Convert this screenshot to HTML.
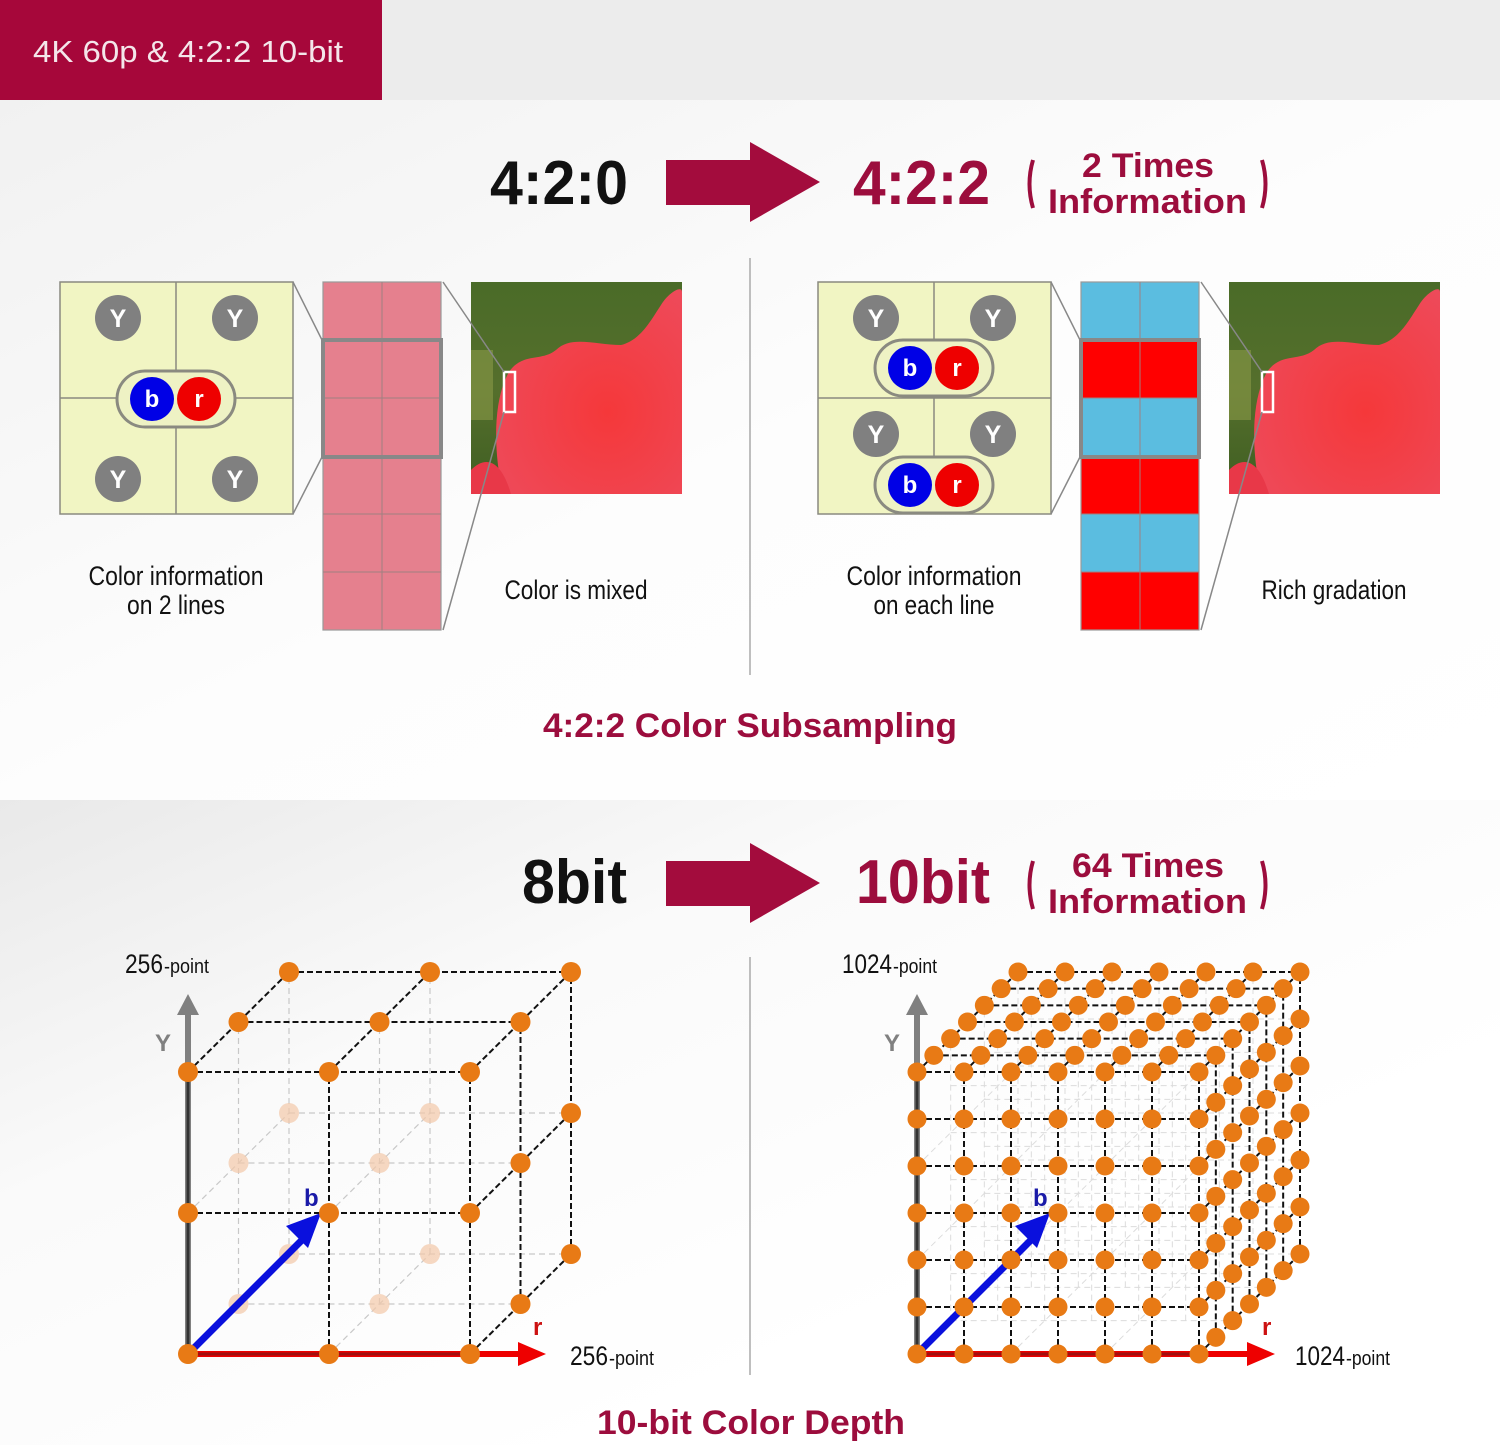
<!DOCTYPE html>
<html><head><meta charset="utf-8"><style>
html,body{margin:0;padding:0;width:1500px;height:1445px;overflow:hidden;background:#fff}
svg{display:block}
text{font-family:"Liberation Sans Narrow","Liberation Sans",sans-serif}
</style></head><body>
<svg id="s" width="1500" height="1445" viewBox="0 0 1500 1445" xmlns="http://www.w3.org/2000/svg">
<defs>
<linearGradient id="g1" x1="0" y1="0" x2="1" y2="1"><stop offset="0" stop-color="#f1f1f1"/><stop offset="0.5" stop-color="#fdfdfd"/><stop offset="1" stop-color="#ffffff"/></linearGradient>
<linearGradient id="g2" x1="0" y1="0" x2="0.7" y2="0.7"><stop offset="0" stop-color="#e9e9e9"/><stop offset="0.45" stop-color="#fafafa"/><stop offset="1" stop-color="#ffffff"/></linearGradient>
<radialGradient id="pet" cx="0.6" cy="0.6" r="0.7"><stop offset="0" stop-color="#f5383a"/><stop offset="1" stop-color="#ee4a5a"/></radialGradient>
<linearGradient id="grn" x1="0" y1="0" x2="0" y2="1"><stop offset="0" stop-color="#4a6b28"/><stop offset="0.5" stop-color="#556f2c"/><stop offset="1" stop-color="#3f5e22"/></linearGradient>
</defs>
<rect x="0" y="0" width="1500" height="100" fill="#ececec"/>
<rect x="0" y="0" width="382" height="100" fill="#a6073a"/>
<text x="33" y="62" font-size="31" fill="#f4e6ea" textLength="310" lengthAdjust="spacingAndGlyphs">4K 60p &amp; 4:2:2 10-bit</text>
<rect x="0" y="100" width="1500" height="700" fill="url(#g1)"/>
<rect x="0" y="800" width="1500" height="645" fill="url(#g2)"/>

<text x="490" y="204" font-size="62" font-weight="bold" fill="#111" textLength="138" lengthAdjust="spacingAndGlyphs">4:2:0</text>
<polygon points="666,160 750,160 750,142 820,182 750,222 750,205 666,205" fill="#a30c3d"/>
<text x="853" y="204" font-size="62" font-weight="bold" fill="#9c0d3d" textLength="137" lengthAdjust="spacingAndGlyphs">4:2:2</text>
<path d="M1033,160 Q1026,184 1033,208" stroke="#9c0d3d" stroke-width="4" fill="none"/>
<path d="M1262,160 Q1269,184 1262,208" stroke="#9c0d3d" stroke-width="4" fill="none"/>
<text x="1082" y="177" font-size="34" font-weight="bold" fill="#9c0d3d" textLength="132" lengthAdjust="spacingAndGlyphs" style="font-family:'Liberation Sans',sans-serif">2 Times</text>
<text x="1048" y="213" font-size="34" font-weight="bold" fill="#9c0d3d" textLength="199" lengthAdjust="spacingAndGlyphs" style="font-family:'Liberation Sans',sans-serif">Information</text>

<line x1="750" y1="258" x2="750" y2="675" stroke="#aaa" stroke-width="1.5"/>
<line x1="750" y1="957" x2="750" y2="1375" stroke="#aaa" stroke-width="1.5"/>

<g id="left422"></g>

<text x="543" y="737" font-size="34" font-weight="bold" fill="#9c0d3d" textLength="414" lengthAdjust="spacingAndGlyphs" style="font-family:'Liberation Sans',sans-serif">4:2:2 Color Subsampling</text>

<text x="522" y="903" font-size="62" font-weight="bold" fill="#111" textLength="105" lengthAdjust="spacingAndGlyphs">8bit</text>
<polygon points="666,861 750,861 750,843 820,883 750,923 750,906 666,906" fill="#a30c3d"/>
<text x="856" y="903" font-size="62" font-weight="bold" fill="#9c0d3d" textLength="134" lengthAdjust="spacingAndGlyphs">10bit</text>
<path d="M1033,861 Q1026,885 1033,909" stroke="#9c0d3d" stroke-width="4" fill="none"/>
<path d="M1262,861 Q1269,885 1262,909" stroke="#9c0d3d" stroke-width="4" fill="none"/>
<text x="1072" y="877" font-size="34" font-weight="bold" fill="#9c0d3d" textLength="152" lengthAdjust="spacingAndGlyphs" style="font-family:'Liberation Sans',sans-serif">64 Times</text>
<text x="1048" y="913" font-size="34" font-weight="bold" fill="#9c0d3d" textLength="199" lengthAdjust="spacingAndGlyphs" style="font-family:'Liberation Sans',sans-serif">Information</text>

<g id="cubes"></g>

<text x="125" y="973" font-size="27" fill="#111" textLength="38" lengthAdjust="spacingAndGlyphs">256</text>
<text x="164" y="973" font-size="20" fill="#111" textLength="45" lengthAdjust="spacingAndGlyphs">-point</text>
<text x="570" y="1365" font-size="27" fill="#111" textLength="38" lengthAdjust="spacingAndGlyphs">256</text>
<text x="609" y="1365" font-size="20" fill="#111" textLength="45" lengthAdjust="spacingAndGlyphs">-point</text>
<text x="842" y="973" font-size="27" fill="#111" textLength="50" lengthAdjust="spacingAndGlyphs">1024</text>
<text x="893" y="973" font-size="20" fill="#111" textLength="44" lengthAdjust="spacingAndGlyphs">-point</text>
<text x="1295" y="1365" font-size="27" fill="#111" textLength="50" lengthAdjust="spacingAndGlyphs">1024</text>
<text x="1346" y="1365" font-size="20" fill="#111" textLength="44" lengthAdjust="spacingAndGlyphs">-point</text>

<text x="597" y="1434" font-size="34" font-weight="bold" fill="#9c0d3d" textLength="308" lengthAdjust="spacingAndGlyphs" style="font-family:'Liberation Sans',sans-serif">10-bit Color Depth</text>
</svg>
<script>
var NS="http://www.w3.org/2000/svg";
function el(p,t,a,txt){var e=document.createElementNS(NS,t);for(var k in a)e.setAttribute(k,a[k]);if(txt!=null)e.textContent=txt;p.appendChild(e);return e;}
var g=document.getElementById("left422");
function ycirc(cx,cy){el(g,"circle",{cx:cx,cy:cy,r:23,fill:"#808080"});el(g,"text",{x:cx,y:cy+9,"font-size":25,"font-weight":"bold",fill:"#fff","text-anchor":"middle",style:"font-family:'Liberation Sans',sans-serif"},"Y");}
function pill(cx,cy){el(g,"rect",{x:cx-59,y:cy-28,width:118,height:56,rx:28,fill:"#eef2c4",stroke:"#8a8a80","stroke-width":3});
 el(g,"circle",{cx:cx-24,cy:cy,r:22,fill:"#0000e6"});el(g,"circle",{cx:cx+23,cy:cy,r:22,fill:"#ee0000"});
 el(g,"text",{x:cx-24,y:cy+8,"font-size":24,"font-weight":"bold",fill:"#fff","text-anchor":"middle",style:"font-family:'Liberation Sans',sans-serif"},"b");
 el(g,"text",{x:cx+23,y:cy+8,"font-size":24,"font-weight":"bold",fill:"#fff","text-anchor":"middle",style:"font-family:'Liberation Sans',sans-serif"},"r");}
function photo(x){
 el(g,"rect",{x:x,y:282,width:211,height:212,fill:"url(#grn)"});
 el(g,"rect",{x:x,y:350,width:22,height:70,fill:"#8a9a48",opacity:0.6});
 el(g,"path",{d:"M"+(x+32)+",494 C"+(x+22)+",450 "+(x+22)+",400 "+(x+38)+",372 C"+(x+52)+",352 "+(x+70)+",362 "+(x+85)+",350 C"+(x+100)+",335 "+(x+125)+",345 "+(x+150)+",345 C"+(x+170)+",340 "+(x+180)+",320 "+(x+190)+",305 C"+(x+198)+",292 "+(x+211)+",285 "+(x+211)+",292 L"+(x+211)+",494 Z",fill:"url(#pet)"});
 el(g,"path",{d:"M"+x+",470 C"+(x+15)+",455 "+(x+30)+",460 "+(x+40)+",494 L"+x+",494 Z",fill:"#e83848"});
 el(g,"rect",{x:x+33,y:372,width:11,height:40,fill:"none",stroke:"#fff","stroke-width":2.5});}
function side(dx,right){
 el(g,"rect",{x:60+dx,y:282,width:233,height:232,fill:"#f1f5c3",stroke:"#8a8a80","stroke-width":1.5});
 el(g,"line",{x1:176+dx,y1:282,x2:176+dx,y2:514,stroke:"#8a8a80","stroke-width":1.5});
 el(g,"line",{x1:60+dx,y1:398,x2:293+dx,y2:398,stroke:"#8a8a80","stroke-width":1.5});
 if(!right){ycirc(118,318);ycirc(235,318);ycirc(118,479);ycirc(235,479);pill(176,399);}
 else{ycirc(876,318);ycirc(993,318);ycirc(876,434);ycirc(993,434);pill(934,368);pill(934,485);}
 var cx=323+dx;
 for(var i=0;i<6;i++){var y=282+i*58;var col=right?(i%2==0?"#5bbde0":"#ff0000"):"#e5808e";
  el(g,"rect",{x:cx,y:y,width:118,height:58,fill:col});}
 el(g,"rect",{x:cx,y:282,width:118,height:348,fill:"none",stroke:"#999","stroke-width":1.2});
 for(var i=1;i<6;i++)el(g,"line",{x1:cx,y1:282+i*58,x2:cx+118,y2:282+i*58,stroke:"#a08080","stroke-width":1});
 el(g,"line",{x1:cx+59,y1:282,x2:cx+59,y2:630,stroke:"#a08080","stroke-width":1});
 el(g,"rect",{x:cx,y:340,width:118,height:117,fill:"none",stroke:"#888","stroke-width":4});
 el(g,"line",{x1:293+dx,y1:282,x2:cx-1,y2:340,stroke:"#888","stroke-width":1.5});
 el(g,"line",{x1:293+dx,y1:514,x2:cx-1,y2:457,stroke:"#888","stroke-width":1.5});
 photo(471+dx);
 el(g,"line",{x1:cx+120,y1:282,x2:504+dx,y2:372,stroke:"#888","stroke-width":1.5});
 el(g,"line",{x1:cx+120,y1:630,x2:504+dx,y2:412,stroke:"#888","stroke-width":1.5});
 var t1=right?["Color information","on each line","Rich gradation"]:["Color information","on 2 lines","Color is mixed"];
 var cxl=176+dx;
 el(g,"text",{x:cxl,y:585,"font-size":27,fill:"#111","text-anchor":"middle",textLength:175,lengthAdjust:"spacingAndGlyphs"},t1[0]);
 el(g,"text",{x:cxl,y:614,"font-size":27,fill:"#111","text-anchor":"middle",textLength:right?121:98,lengthAdjust:"spacingAndGlyphs"},t1[1]);
 el(g,"text",{x:576+dx,y:599,"font-size":27,fill:"#111","text-anchor":"middle",textLength:right?145:143,lengthAdjust:"spacingAndGlyphs"},t1[2]);
}
side(0,false);side(758,true);

var c=document.getElementById("cubes");
function cube(ox,oy,n,s,D){
 var ds=101/n, dy=100/n;
 function P(i,j,k){return [ox+i*s+k*ds, oy-j*s-k*dy];}
 var faint=el(c,"g",{stroke:n>2?"#dcdcdc":"#c8c8c8","stroke-width":n>2?1:1.2,"stroke-dasharray":"6,4",fill:"none"});
 var solid=el(c,"g",{stroke:"#111","stroke-width":2,"stroke-dasharray":"6,3",fill:"none"});
 function L(gr,a,b){el(gr,"line",{x1:a[0],y1:a[1],x2:b[0],y2:b[1]});}
 var ks=n>2?[2,4,6]:[1,2];
 ks.forEach(function(k){
  for(var j=0;j<n;j++)L(faint,P(0,j,k),P(n,j,k));
  for(var i=0;i<n;i++)L(faint,P(i,0,k),P(i,n,k));
 });
 var st=n>2?2:1;
 for(var i=0;i<n;i+=st)for(var j=0;j<n;j+=st)L(faint,P(i,j,0),P(i,j,D));
 for(var j=0;j<=n;j++)L(solid,P(0,j,0),P(n,j,0));
 for(var i=0;i<=n;i++)L(solid,P(i,0,0),P(i,n,0));
 for(var k=1;k<=D;k++)L(solid,P(0,n,k),P(n,n,k));
 for(var i=0;i<=n;i++)L(solid,P(i,n,0),P(i,n,D));
 for(var k=1;k<=D;k++)L(solid,P(n,0,k),P(n,n,k));
 for(var j=0;j<n;j++)L(solid,P(n,j,0),P(n,j,D));
 if(n==2){for(var k=1;k<=D;k++)for(var i=0;i<n;i++)for(var j=0;j<n;j++){var p=P(i,j,k);el(c,"circle",{cx:p[0],cy:p[1],r:10,fill:"#f2c8a8",opacity:0.7});}}
 el(c,"line",{x1:ox,y1:oy,x2:ox,y2:oy-350,stroke:"#808080","stroke-width":6});
 el(c,"line",{x1:ox,y1:oy,x2:ox,y2:oy-280,stroke:"#333","stroke-width":3});
 el(c,"polygon",{points:(ox-11)+","+(oy-339)+" "+(ox+11)+","+(oy-339)+" "+ox+","+(oy-360),fill:"#808080"});
 el(c,"text",{x:ox-33,y:oy-303,"font-size":24,fill:"#808080","font-weight":"bold",style:"font-family:'Liberation Sans',sans-serif"},"Y");
 el(c,"line",{x1:ox,y1:oy,x2:ox+332,y2:oy,stroke:"#ee0000","stroke-width":6});
 el(c,"line",{x1:ox,y1:oy,x2:ox+282,y2:oy,stroke:"#a01010","stroke-width":3});
 el(c,"polygon",{points:(ox+330)+","+(oy-12)+" "+(ox+330)+","+(oy+12)+" "+(ox+358)+","+oy,fill:"#ee0000"});
 el(c,"text",{x:ox+345,y:oy-19,"font-size":24,fill:"#cc1111","font-weight":"bold",style:"font-family:'Liberation Sans',sans-serif"},"r");
 el(c,"line",{x1:ox+4,y1:oy-4,x2:ox+118,y2:oy-118,stroke:"#0a10dd","stroke-width":7});
 el(c,"polygon",{points:(ox+133)+","+(oy-141)+" "+(ox+98)+","+(oy-128)+" "+(ox+120)+","+(oy-106),fill:"#0a10dd"});
 el(c,"text",{x:ox+116,y:oy-148,"font-size":24,fill:"#1a1aa8","font-weight":"bold",style:"font-family:'Liberation Sans',sans-serif"},"b");
 var r=n==2?10:9.5;
 function dot(p){el(c,"circle",{cx:p[0],cy:p[1],r:r,fill:"#e87a15"});}
 for(var k=D;k>=1;k--)for(var i=0;i<=n;i++)dot(P(i,n,k));
 for(var k=D;k>=1;k--)for(var j=0;j<n;j++)dot(P(n,j,k));
 for(var i=0;i<=n;i++)for(var j=0;j<=n;j++)dot(P(i,j,0));
}
cube(188,1354,2,141,2);
cube(917,1354,6,47,6);
</script>
</body></html>
